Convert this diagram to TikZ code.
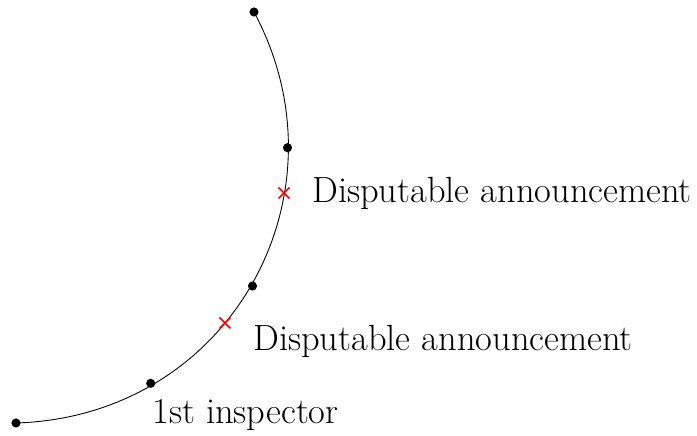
\documentclass[tikz,border=0pt]{standalone}
\usetikzlibrary{calc}
\begin{document}
\begin{tikzpicture}[x=0.02cm,y=0.02cm,
  pt/.style={circle,fill=black,inner sep=0pt,minimum size=5.2pt},
  cross/.style={red,line width=0.9pt},
  lbl/.style={anchor=base west,inner sep=0pt,font=\huge}]
\useasboundingbox (0,0) rectangle (697,436);
\coordinate (c0) at (16,13);
\coordinate (c1) at (150.7,52.7);
\coordinate (x1) at (225,113);
\coordinate (c2) at (252.5,150);
\coordinate (x2) at (284,243);
\coordinate (c3) at (287.5,288.3);
\coordinate (c4) at (254,424);
\draw[line width=0.5pt] (c0) .. controls (231,19.5) and (351.9,241.6) .. (c4);
\node[pt] (p0) at (c0) {};
\node[pt] (p1) at (c1) {};
\node[pt] (p2) at (c2) {};
\node[pt] (p3) at (c3) {};
\node[pt] (p4) at (c4) {};
\draw[cross] ($(x1)+(-5.5,-5.5)$) -- ($(x1)+(5.5,5.5)$) ($(x1)+(-5.5,5.5)$) -- ($(x1)+(5.5,-5.5)$);
\draw[cross] ($(x2)+(-5.5,-5.5)$) -- ($(x2)+(5.5,5.5)$) ($(x2)+(-5.5,5.5)$) -- ($(x2)+(5.5,-5.5)$);
\node[lbl] (l1) at (312,233) {Disputable announcement};
\node[lbl] (l2) at (253,85) {Disputable announcement};
\node[lbl] (l3) at (152,12) {1st inspector};
\end{tikzpicture}
\end{document}
